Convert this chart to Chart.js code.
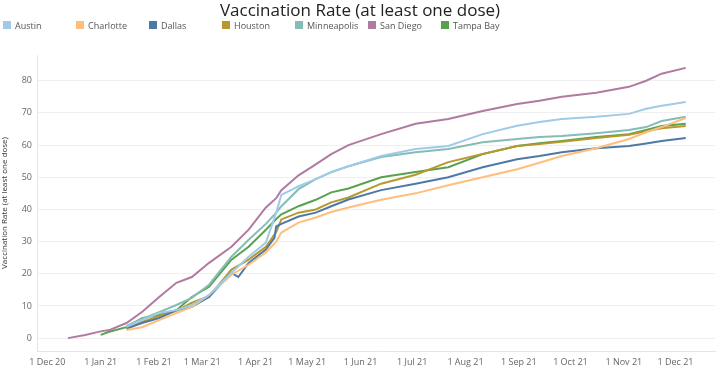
<!DOCTYPE html>
<html>
<head>
<meta charset="utf-8">
<script src="https://cdn.jsdelivr.net/npm/chart.js@4"></script>
<style>
  html, body { margin: 0; padding: 0; background: #fff; }
  #wrap { position: relative; width: 720px; height: 369px; }
  #title {
    position: absolute; left: 0; top: 0; width: 720px; text-align: center;
    font: 500 17px "Open Sans", sans-serif; color: #222; line-height: 19px;
  }
  #legend { position: absolute; left: 3px; top: 19px; height: 12px; display: flex; }
  .item { width: 73px; display: flex; align-items: center; font: 9px "Open Sans", sans-serif; color: #555; }
  .item i { display: inline-block; width: 8px; height: 8px; margin-right: 4px; }
  canvas { position: absolute; left: 0; top: 0; }
</style>
</head>
<body>
<div id="wrap">
  <canvas id="c" width="720" height="369"></canvas>
  <div id="title">Vaccination Rate (at least one dose)</div>
  <div id="legend"></div>
</div>
<script>
// valores (percentual com ao menos uma dose)
const dates = [
  "2020-12-13", "2020-12-23", "2021-01-01", "2021-01-06", "2021-01-16", "2021-01-25",
  "2021-02-04", "2021-02-14", "2021-02-23", "2021-03-05", "2021-03-18", "2021-03-22",
  "2021-03-28", "2021-04-07", "2021-04-12", "2021-04-13", "2021-04-16", "2021-04-26",
  "2021-05-06", "2021-05-15", "2021-05-25", "2021-06-13", "2021-07-03", "2021-07-22",
  "2021-08-11", "2021-08-31", "2021-09-13", "2021-09-26", "2021-10-16", "2021-11-04",
  "2021-11-14", "2021-11-23", "2021-12-07",
];

const cities = ["Austin", "Charlotte", "Dallas", "Houston", "Minneapolis", "San Diego", "Tampa Bay"];
const colors = ["#A0CBE8", "#FFBE7D", "#4E79A7", "#B6992D", "#86BCB6", "#B07AA1", "#59A14F"];

const austin = [null, null, null, null, 3.5, 5.6, 7.8, 8.7, 10.3, 13.4, 20.3, null, 25.3, 29.7, null, 39, 44.5, 47.2,
  49.4, 51.6, 53.4, 56.6, 58.8, 59.7, 63.4, 66, 67.2, 68.1, 68.8, 69.7, 71.3, 72.2, 73.4];
const charlotte = [null, null, null, null, 2.5, 3.4, 5.6, 7.8, 9.7, 13.4, 19.7, null, 22.8, 26.6, null, 30, 32.8, 35.9,
  37.5, 39.2, 40.6, 43, 45, 47.5, 50, 52.5, 54.5, 56.6, 59, 61.9, 64, 65.6, 68.4];
const dallas = [null, null, null, null, 3.0, 4.7, 6.2, 8.7, 9.7, 12.8, 20.3, 19, 23.4, 27.5, 31.2, 34.7, 35.5, 37.8,
  39, 41, 43.1, 46, 48, 50, 53.1, 55.6, 56.6, 57.8, 59, 59.7, 60.5, 61.3, 62.2];
const houston = [null, null, null, null, 3.0, 5, 6.8, 8.5, 11, 13, 21.3, null, 24.4, 28.4, null, 33, 36.9, 39,
  40, 42.2, 43.7, 48, 50.8, 54.7, 57.2, 59.7, 60.3, 61, 62.2, 63.2, 64.3, 65.2, 65.9];
const minneapolis = [null, null, null, null, 3.8, 6, 8.1, 10.3, 12.5, 16.6, 25.3, null, 30.6, 35.5, null, 39, 41, 46.3,
  49.4, 51.6, 53.4, 56.3, 57.8, 58.8, 60.9, 61.9, 62.5, 62.8, 63.7, 64.7, 65.6, 67.5, 68.8];
const sanDiego = [0, 1.0, 2.1, 2.5, 4.7, 8.1, 12.8, 17.2, 19, 23.4, 28.4, null, 33.7, 40.6, null, 43.5, 46, 50.6,
  54, 57.2, 60, 63.4, 66.6, 68.1, 70.6, 72.8, 73.8, 75, 76.3, 78.1, 80, 82.2, 84];
const tampaBay = [null, null, 1.0, 2, 3.4, 6.2, 7.2, 8.7, 12.8, 16, 24.4, null, 28.4, 33.7, null, 37, 38.5, 41,
  43, 45.3, 46.5, 50, 51.6, 53.1, 57.2, 59.7, 60.6, 61.3, 62.5, 63.4, 64.7, 65.9, 66.6];

const series = [austin, charlotte, dallas, houston, minneapolis, sanDiego, tampaBay];

const tickDates = ["2020-12-01", "2021-01-01", "2021-02-01", "2021-03-01", "2021-04-01", "2021-05-01",
  "2021-06-01", "2021-07-01", "2021-08-01", "2021-09-01", "2021-10-01", "2021-11-01", "2021-12-01"];
const tickLabels = ["1 Dec 20", "1 Jan 21", "1 Feb 21", "1 Mar 21", "1 Apr 21", "1 May 21",
  "1 Jun 21", "1 Jul 21", "1 Aug 21", "1 Sep 21", "1 Oct 21", "1 Nov 21", "1 Dec 21"];
const yTicks = [0, 10, 20, 30, 40, 50, 60, 70, 80];

const ORIGIN = Date.parse("2020-12-01");
const dayOf = (iso) => (Date.parse(iso) - ORIGIN) / 86400000;
const xDays = dates.map(dayOf);
const tickDays = tickDates.map(dayOf);

const GRID_COLOR = "#EFEFEF";
const TEXT_COLOR = "#666";

// legenda em HTML com largura fixa por item, como no original
document.getElementById("legend").innerHTML = cities
  .map((c, i) => `<div class="item"><i style="background:${colors[i]}"></i>${c}</div>`)
  .join("");

Chart.defaults.font.family = "'Open Sans', sans-serif";
Chart.defaults.color = TEXT_COLOR;

new Chart(document.getElementById("c"), {
  type: "line",
  data: {
    datasets: cities.map((c, i) => ({
      label: c,
      data: series[i].map((v, j) => ({ x: xDays[j], y: v })).filter((p) => p.y !== null),
      borderColor: colors[i],
      backgroundColor: colors[i],
      borderWidth: 2,
      pointRadius: 0,
      tension: 0,
    })),
  },
  options: {
    responsive: false,
    animation: false,
    layout: { padding: { top: 55, right: 5, left: 0, bottom: 0 } },
    plugins: { legend: { display: false }, tooltip: { enabled: false } },
    scales: {
      x: {
        type: "linear",
        min: -6,
        max: 388,
        afterBuildTicks: (s) => { s.ticks = tickDays.map((v) => ({ value: v })); },
        afterFit: (s) => { s.height = 18; },
        grid: { display: false, drawTicks: false },
        border: { color: "#E6E6E6" },
        ticks: {
          autoSkip: false,
          maxRotation: 0,
          padding: 6,
          font: { size: 9 },
          callback: (v) => tickLabels[tickDays.indexOf(v)],
        },
      },
      y: {
        min: -4,
        max: 88,
        afterBuildTicks: (s) => { s.ticks = yTicks.map((v) => ({ value: v })); },
        afterFit: (s) => { s.width = 37; },
        grid: { color: GRID_COLOR, drawTicks: false },
        border: { color: "#E6E6E6" },
        ticks: { padding: 5, font: { size: 9 } },
        title: {
          display: true,
          text: "Vaccination Rate (at least one dose)",
          color: "#333",
          font: { size: 8, weight: "500" },
          padding: { top: 0, bottom: 0 },
        },
      },
    },
  },
});
</script>
</body>
</html>
